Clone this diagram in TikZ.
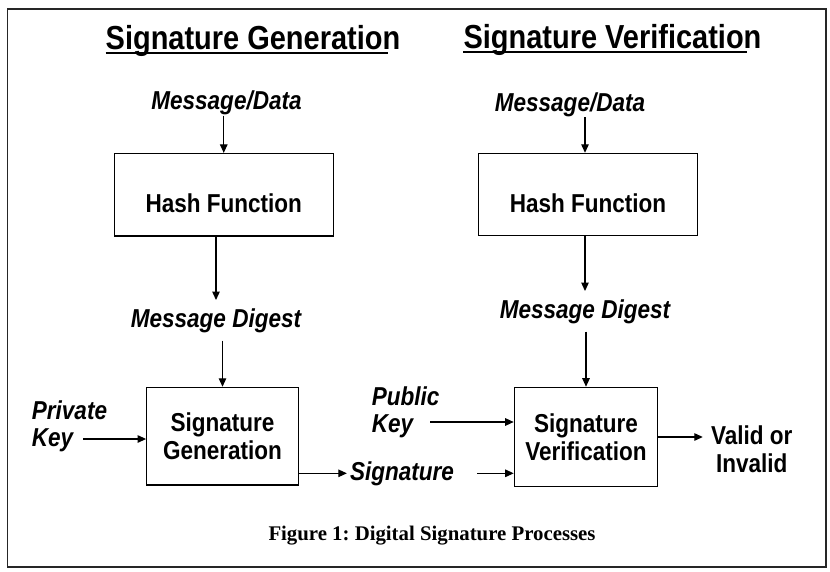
\documentclass[tikz,border=0pt]{standalone}
\usepackage{fontspec}
\setmainfont{Liberation Serif}
\setsansfont[FakeStretch=0.87]{Liberation Sans}
\usetikzlibrary{arrows.meta}
\frenchspacing

\begin{document}
\begin{tikzpicture}[x=1pt, y=-1pt,
    every node/.style={inner sep=0pt, font=\sffamily\bfseries\fontsize{25.9}{27.5}\selectfont},
    title/.style={anchor=base, font=\sffamily\bfseries\fontsize{33.3}{36}\selectfont},
    datatxt/.style={anchor=base, font=\sffamily\bfseries\itshape\fontsize{25.9}{27.5}\selectfont},
    block/.style={draw, line width=1.2pt, align=center},
    hashbox/.style={block, minimum width=219pt, minimum height=82.5pt, text height=36pt, text depth=0pt},
    arr/.style={-{Triangle[length=8.5pt, width=7.5pt]}, line width=1.2pt}]
    \useasboundingbox (0,0) rectangle (830,572);
    \draw[line width=1.5pt, black!85] (7.3,9) rectangle (826,567);

    % generation side
    \node[title] (ttlgen) at (253,50) {Signature Generation};
    \node[datatxt] (msggen) at (226.5,110) {Message/Data};
    \node[hashbox] (hashgen) at (223.75,194.75) {Hash Function};
    \node[datatxt, inner ysep=8pt] (dgstgen) at (216,327) {Message Digest};
    \node[block, minimum width=151.6pt, minimum height=97.7pt] (siggen) at (222.5,436.2) {Signature\\Generation};
    \node[datatxt, anchor=west, align=left] (prvkey) at (31.7,426.4) {Private\\Key};
    \node[datatxt, inner xsep=3pt] (sigtxt) at (402,480) {Signature};

    % verification side
    \node[title] (ttlver) at (612.5,48.5) {Signature Verification};
    \node[datatxt] (msgver) at (570,111.5) {Message/Data};
    \node[hashbox] (hashver) at (588,194.65) {Hash Function};
    \node[datatxt, inner ysep=8pt] (dgstver) at (585,318) {Message Digest};
    \node[block, minimum width=143.4pt, minimum height=99.4pt] (sigver) at (586,437) {Signature\\Verification};
    \node[datatxt, anchor=west, align=left] (pubkey) at (371.7,412.2) {Public\\Key};
    \node[align=center, inner xsep=8pt] (vldout) at (751.7,449) {Valid or\\Invalid};

    \node[anchor=base, font=\rmfamily\bfseries\fontsize{20.8}{25}\selectfont] (caption) at (432,540) {Figure 1: Digital Signature Processes};

    % title underlines
    \draw[line width=2pt] ([yshift=-3.5pt]ttlgen.base west) -- ([xshift=-12pt, yshift=-3.5pt]ttlgen.base east);
    \draw[line width=2pt] ([yshift=-3.5pt]ttlver.base west) -- ([xshift=-15pt, yshift=-3.5pt]ttlver.base east);

    \coordinate (prvin) at (83,439);
    \coordinate (pubin) at (430,422);

    \path[arr]
    (hashgen.north |- msggen.south) edge (hashgen.north)
    (hashgen.south -| dgstgen) edge (dgstgen)
    (dgstgen.south -| siggen) edge (siggen)
    (prvin) edge (prvin -| siggen.west)
    (siggen.east |- sigtxt) edge (sigtxt)
    (sigtxt.east) edge[shorten <=20pt] (sigtxt.east -| sigver.west)
    ([xshift=-3pt]hashver.north |- msgver.south) edge ([xshift=-3pt]hashver.north)
    (hashver.south -| dgstver) edge (dgstver)
    (dgstver.south -| sigver) edge (sigver)
    (pubin) edge (pubin -| sigver.west)
    (sigver.east) edge (sigver.east -| vldout.west);
\end{tikzpicture}
\end{document}
